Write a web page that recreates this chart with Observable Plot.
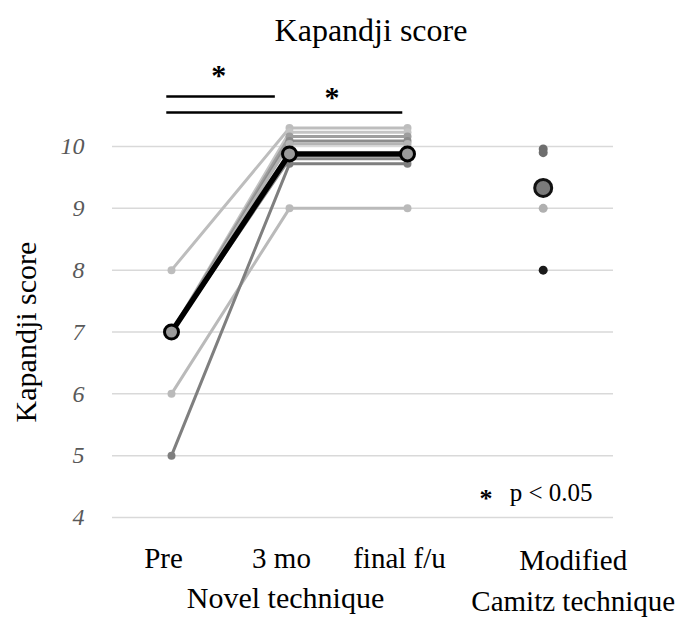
<!DOCTYPE html>
<html><head><meta charset="utf-8">
<script src="https://cdn.jsdelivr.net/npm/d3@7"></script>
<script src="https://cdn.jsdelivr.net/npm/@observablehq/plot@0.6"></script>
<style>
body{margin:0;background:#fff;}
#chart{width:681px;height:617px;}
</style></head><body><div id="chart"></div>
<script>
// ---- data ----
const timepoints = ["Pre", "3 mo", "final f/u"];
const timeX = [0, 1, 2];
const camitzX = 3.15;
const patients = ["N1", "N2", "N3", "N4", "N5", "N6", "N7", "N8"];
const preScores = [8, 7, 7, 7, 7, 7, 6, 5];
const m3Scores = [10.30, 10.23, 10.16, 10.09, 10.04, 9.80, 9.00, 9.72];
const finalScores = [10.30, 10.23, 10.16, 10.09, 10.04, 9.80, 9.00, 9.72];
const novelMean = [7.0, 9.88, 9.88];
const camitzIds = ["C1", "C2", "C3", "C4"];
const camitzScores = [9.96, 9.90, 9.00, 8.00];
const camitzMean = [9.33];
const yTicks = [4, 5, 6, 7, 8, 9, 10];
const groupLabels = ["Novel technique", "Modified\nCamitz technique"];
// significance brackets (data units)
const bracketStart = [-0.04, -0.04];
const bracketEnd = [0.88, 1.96];
const bracketY = [10.81, 10.55];
const starX = [0.40, 1.36];
const starY = [11.18, 10.82];

// ---- styles ----
const patientGray = ["#bdbdbd", "#c4c4c4", "#9e9e9e", "#8c8c8c", "#b4b4b4", "#8a8a8a", "#bababa", "#7f7f7f"];
const camitzGray = ["#6e6e6e", "#6e6e6e", "#b0b0b0", "#1a1a1a"];

// ---- tables ----
const rows = [];
patients.forEach((p, i) => {
  [preScores[i], m3Scores[i], finalScores[i]].forEach((s, t) => rows.push({patient: p, x: timeX[t], score: s}));
});
const meanRows = novelMean.map((s, t) => ({x: timeX[t], score: s}));
const camitzRows = camitzScores.map((s, i) => ({id: camitzIds[i], x: camitzX, score: s}));
const brackets = bracketStart.map((b, i) => ({x1: b, x2: bracketEnd[i], y: bracketY[i], sx: starX[i], sy: starY[i]}));

const serif = "'Liberation Serif', 'Times New Roman', Times, serif";

const chart = Plot.plot({
  width: 681, height: 617,
  marginLeft: 112, marginRight: 68, marginTop: 146, marginBottom: 100,
  style: {fontFamily: serif, background: "white", color: "black"},
  x: {type: "linear", domain: [0, 2], range: [171, 407], axis: null},
  y: {domain: [4, 10], axis: null},
  color: {type: "ordinal", domain: [...patients, ...camitzIds], range: [...patientGray, ...camitzGray]},
  marks: [
    Plot.ruleY(yTicks, {stroke: "#d9d9d9", strokeWidth: 1.5}),
    Plot.text(yTicks, {y: d => d, frameAnchor: "left", dx: -28, textAnchor: "end", lineAnchor: "middle", text: d => String(d),
      fontSize: 24, fontStyle: "italic", fill: "#595959"}),
    Plot.line(rows, {x: "x", y: "score", z: "patient", stroke: "patient", strokeWidth: 3}),
    Plot.dot(rows, {x: "x", y: "score", fill: "patient", r: 4}),
    Plot.line(meanRows, {x: "x", y: "score", stroke: "black", strokeWidth: 5.5}),
    Plot.dot(meanRows, {x: "x", y: "score", r: 7, fill: "#9a9a9a", stroke: "black", strokeWidth: 3}),
    Plot.dot(camitzRows, {x: "x", y: "score", fill: "id", r: 4.5}),
    Plot.dot(camitzMean, {x: () => camitzX, y: d => d, r: 8.5, fill: "#7a7a7a", stroke: "#111", strokeWidth: 3}),
    Plot.ruleY(brackets, {x1: "x1", x2: "x2", y: "y", stroke: "black", strokeWidth: 2.5}),
    Plot.text(brackets, {x: "sx", y: "sy", text: () => "*", fontSize: 30, fontWeight: "bold", dy: 2}),
    Plot.text(timepoints, {x: (d, i) => timeX[i], frameAnchor: "bottom", lineAnchor: "middle", dy: 41, dx: -8, text: d => d, fontSize: 29}),
    Plot.text([groupLabels[0]], {x: () => timeX[1], frameAnchor: "bottom", lineAnchor: "middle", dy: 81, dx: -4, text: d => d, fontSize: 30}),
    Plot.text([groupLabels[1]], {x: () => camitzX, frameAnchor: "bottom", lineAnchor: "middle", dy: 60, dx: 30, text: d => d, fontSize: 29, lineHeight: 1.42}),
    Plot.text(["Kapandji score"], {frameAnchor: "left", rotate: -90, textAnchor: "middle", lineAnchor: "middle", dx: -86, text: d => d, fontSize: 30}),
    Plot.text(["Kapandji score"], {frameAnchor: "top", lineAnchor: "middle", dy: -116, dx: 8, text: d => d, fontSize: 32}),
    Plot.text(["*"], {frameAnchor: "bottom-right", lineAnchor: "middle", dx: -121, dy: -19, text: d => d, fontSize: 26, fontWeight: "bold"}),
    Plot.text(["p < 0.05"], {frameAnchor: "bottom-right", lineAnchor: "middle", dx: -21, dy: -25, textAnchor: "end", text: d => d, fontSize: 25})
  ]
});
document.getElementById("chart").appendChild(chart);
</script></body></html>
